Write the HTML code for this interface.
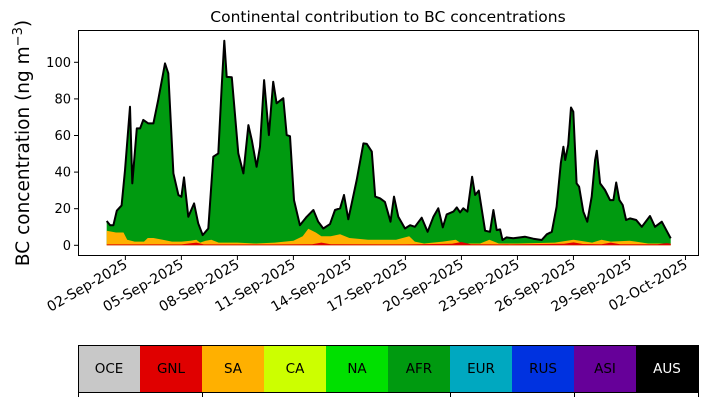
<!DOCTYPE html>
<html><head><meta charset="utf-8"><style>
body{margin:0;background:#fff}
svg text{font-family:"DejaVu Sans","Liberation Sans",sans-serif}
</style></head><body>
<svg id="c" width="707" height="402" xmlns="http://www.w3.org/2000/svg">
<text x="388" y="22" font-size="15.5" text-anchor="middle">Continental contribution to BC concentrations</text>
<text transform="translate(29,143) rotate(-90)" font-size="18.5" text-anchor="middle">BC concentration (ng m<tspan dy="-7" font-size="13">−3</tspan><tspan dy="7">)</tspan></text>
<g id="plot"></g>
<rect x="78.5" y="30.5" width="620" height="225" fill="none" stroke="#000" stroke-width="1"/>
<g id="cbar"></g>
</svg>
<script>
const days=[0,0.18,0.36,0.54,0.8,0.98,1.25,1.37,1.61,1.79,1.96,2.23,2.5,2.76,3.12,3.3,3.57,3.84,4.0,4.14,4.37,4.68,4.9,5.14,5.44,5.71,5.98,6.16,6.3,6.43,6.7,7.05,7.32,7.59,7.77,8.03,8.21,8.43,8.69,8.92,9.1,9.46,9.64,9.82,10.03,10.35,10.71,11.07,11.33,11.6,11.96,12.23,12.5,12.71,12.94,13.12,13.39,13.75,13.93,14.2,14.38,14.64,14.9,15.2,15.39,15.62,15.98,16.25,16.51,16.87,17.19,17.5,17.76,18.0,18.21,18.57,18.75,18.93,19.1,19.32,19.57,19.73,19.93,20.27,20.53,20.71,20.89,21.07,21.2,21.42,21.78,22.4,22.85,23.3,23.57,23.84,24.1,24.32,24.46,24.56,24.72,24.87,24.99,25.17,25.3,25.53,25.74,25.98,26.16,26.25,26.43,26.69,26.96,27.14,27.29,27.46,27.64,27.82,28.03,28.36,28.66,29.1,29.37,29.73,30.21];
const total=[13.3,11,11,18.9,21.8,41,75.7,33.8,63.9,63.9,68.5,66.6,66.6,79.4,99.4,94,39.3,27.5,26.5,37.1,15.6,22.9,12,5.6,9.2,48.4,50.2,86.7,111.8,92,91.8,50.2,39.3,65.7,57.5,42.9,53.9,90.3,60.2,89.4,77.6,80.4,60.2,59.6,24.7,11,15.6,19.3,12.9,9.2,11.6,19.3,20.2,27.5,14.2,22.9,35.7,55.7,55.4,51.2,26.6,25.7,23.7,12.9,26.6,15.6,9.2,11,10.1,15.1,7.4,15.6,20.2,9.8,16.9,18.4,20.7,18,20.2,18.4,37.5,27.5,29.9,8,7.4,19.3,8.3,8.7,2.9,4.3,3.8,4.7,3.6,2.9,6,7.4,21.1,44.8,53.9,46.6,54.8,75.3,73,33.8,32,18.4,12.9,26.6,46.6,51.7,33.8,30.2,24.7,24.7,34.3,24.7,22,13.8,14.7,13.8,10.1,16,10.1,12.9,3.8];
const saDays=[0,0.5,0.9,1.1,1.5,2,2.2,2.5,3,3.5,4,4.5,4.8,5,5.3,5.6,6,7,8,9,10,10.5,10.8,11.2,11.5,12,12.5,13,14,15,15.5,16.2,16.5,17,18,18.7,19,20,20.5,21,22,24,25,26,26.5,27,28,29,30.21];
const saTop=[8,7,7,3,2,2,4,4,3,2,2,2.5,3,1.5,2.5,3,1.5,1.5,1,1.5,2.5,5,9,7,5,5,6,4,3,3,3,5,2,1,2,3,1,1,3,1,1,1.5,3,1.5,3,2,2.5,1,1];
const gnlDays=[0,2,4,4.8,5.2,6,9,11,11.5,12,16,18.5,19,19.5,21,24.5,25,25.5,26.5,27,27.5,29.5,30,30.21];
const gnl=[0.5,0.5,0.5,1.5,0.5,0.5,0.5,0.6,1.5,0.6,0.5,0.8,1.8,0.6,0.5,0.8,1.6,0.7,0.6,1.5,0.6,0.6,1.2,0.8];
const tickDates=['02-Sep-2025','05-Sep-2025','08-Sep-2025','11-Sep-2025','14-Sep-2025','17-Sep-2025','20-Sep-2025','23-Sep-2025','26-Sep-2025','29-Sep-2025','02-Oct-2025'];
const tickDays=[1,4,7,10,13,16,19,22,25,28,31];
const yTicks=[0,20,40,60,80,100];
const regions=['OCE','GNL','SA','CA','NA','AFR','EUR','RUS','ASI','AUS'];
const regionColors=['#c8c8c8','#e00000','#ffb000','#ccff00','#00e000','#009a10','#00a8c0','#0032e0','#660099','#000000'];

const NS='http://www.w3.org/2000/svg';
const X=d=>106.7+d*18.67;
const Y=v=>245.3-v*1.83;
const plot=document.getElementById('plot');
function mk(tag,attrs,parent){const e=document.createElementNS(NS,tag);for(const k in attrs)e.setAttribute(k,attrs[k]);parent.appendChild(e);return e;}
function area(ds,vs,fill,name){
  let p='M'+X(ds[0])+','+Y(0);
  ds.forEach((d,i)=>{p+=' L'+X(d).toFixed(1)+','+Y(vs[i]).toFixed(1);});
  p+=' L'+X(ds[ds.length-1])+','+Y(0)+' Z';
  const e=mk('path',{d:p,fill:fill},plot);
  
  
}
area(days,total,'#009a10','afr-area');
area(saDays,saTop,'#ffb000','sa-area');
area(gnlDays,gnl,'#e00000','gnl-area');
let lp='';days.forEach((d,i)=>{lp+=(i?' L':'M')+X(d).toFixed(1)+','+Y(total[i]).toFixed(1);});
const line=mk('path',{d:lp,fill:'none',stroke:'#000','stroke-width':2,'stroke-linejoin':'round'},plot);


yTicks.forEach(v=>{
  const t=mk('line',{x1:74,x2:78,y1:Y(v),y2:Y(v),stroke:'#000'},plot);
  
  
  const l=mk('text',{x:71,y:Y(v)+4.5,'font-size':13,'text-anchor':'end'},plot);
  l.textContent=v;
  
  
});
tickDays.forEach((d,i)=>{
  const x=X(d-1)+18.67;
  const t=mk('line',{x1:x,x2:x,y1:256,y2:260,stroke:'#000'},plot);
  
  
  const l=mk('text',{transform:'translate('+(x+3)+',267) rotate(-30)','font-size':14,'text-anchor':'end'},plot);
  l.textContent=tickDates[i];
  
  
});
const cb=document.getElementById('cbar');
regions.forEach((r,i)=>{
  const x=78+i*62;
  const rc=mk('rect',{x:x,y:345.5,width:62,height:47,fill:regionColors[i]},cb);
  
  
  const t=mk('text',{x:x+31,y:373,'font-size':13.5,'text-anchor':'middle',fill:r==='AUS'?'#fff':'#000'},cb);
  t.textContent=r;
  
  
});
const fr=mk('rect',{x:78.5,y:345.5,width:620,height:47,fill:'none',stroke:'#000'},cb);


[78.5,202.5,450.5,574.5,698.5].forEach(x=>{
  const t=mk('line',{x1:x,x2:x,y1:392,y2:397,stroke:'#000'},cb);
  
  
});
</script>
</body></html>
